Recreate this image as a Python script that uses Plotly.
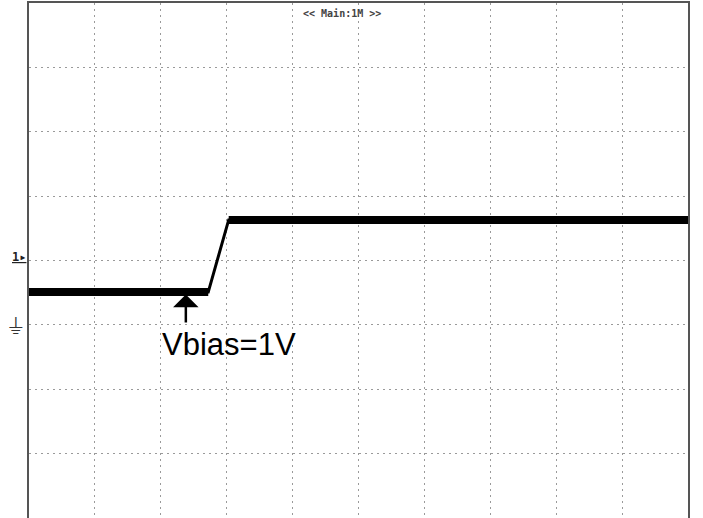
import plotly.graph_objects as go

# Oscilloscope trace in screen divisions (10 horizontal x 8 vertical)
time_div = [0.0, 2.72, 3.03, 10.0]
volt_div = [-0.49, -0.49, 0.63, 0.63]

low_x = [0.0, 2.72]
low_y = [-0.49, -0.49]
high_x = [3.03, 10.0]
high_y = [0.63, 0.63]

x_ticks = list(range(0, 11))
y_ticks = list(range(-4, 5))

ch1_level = -0.08
gnd_level = -1.02

fig = go.Figure()
fig.add_trace(go.Scatter(x=time_div, y=volt_div, mode="lines",
                         line=dict(color="black", width=3), showlegend=False))
fig.add_trace(go.Scatter(x=low_x, y=low_y, mode="lines",
                         line=dict(color="black", width=8), showlegend=False))
fig.add_trace(go.Scatter(x=high_x, y=high_y, mode="lines",
                         line=dict(color="black", width=8), showlegend=False))

grid = dict(showgrid=True, gridcolor="#9a9a9a", gridwidth=1, griddash="2px,4px",
            showticklabels=False, ticks="", zeroline=False,
            showline=True, linecolor="#555555", linewidth=2, mirror=True)

fig.update_layout(
    width=703, height=518,
    margin=dict(l=29, r=15, t=3, b=0, autoexpand=False),
    paper_bgcolor="white", plot_bgcolor="white",
    xaxis=dict(range=[0, 10], tickvals=x_ticks, **grid),
    yaxis=dict(range=[-4, 4], tickvals=y_ticks, **grid),
)

# header text
fig.add_annotation(xref="paper", yref="paper", x=0.475, y=0.995, yanchor="top",
                   text="<b><< Main:1M >></b>", showarrow=False,
                   font=dict(family="DejaVu Sans Mono", size=10, color="#444444"))

# channel markers
fig.add_annotation(xref="paper", yref="y", x=-0.002, y=ch1_level, xanchor="right",
                   yanchor="bottom", text="<b><u>1▸</u></b>", showarrow=False,
                   font=dict(family="DejaVu Sans Mono", size=12, color="#222222"))
fig.add_annotation(xref="paper", yref="y", x=-0.004, y=gnd_level, xanchor="right",
                   text="⏚", showarrow=False,
                   font=dict(family="DejaVu Sans", size=22, color="#333333"))

# Vbias callout: arrow and label
fig.add_annotation(x=2.38, y=-0.53, xref="x", yref="y",
                   text=" ", showarrow=True, ax=0, ay=30,
                   arrowhead=1, arrowsize=1.7, arrowwidth=2.5, arrowcolor="black",
                   standoff=0, font=dict(size=1))
fig.add_annotation(x=3.04, y=-1.30, xref="x", yref="y",
                   text="Vbias=1V", showarrow=False, yanchor="middle",
                   font=dict(family="Liberation Sans, Arial", size=31, color="black"))

fig.write_html("out.html", config={"displayModeBar": False},
               post_script="document.body.style.margin='0';")
